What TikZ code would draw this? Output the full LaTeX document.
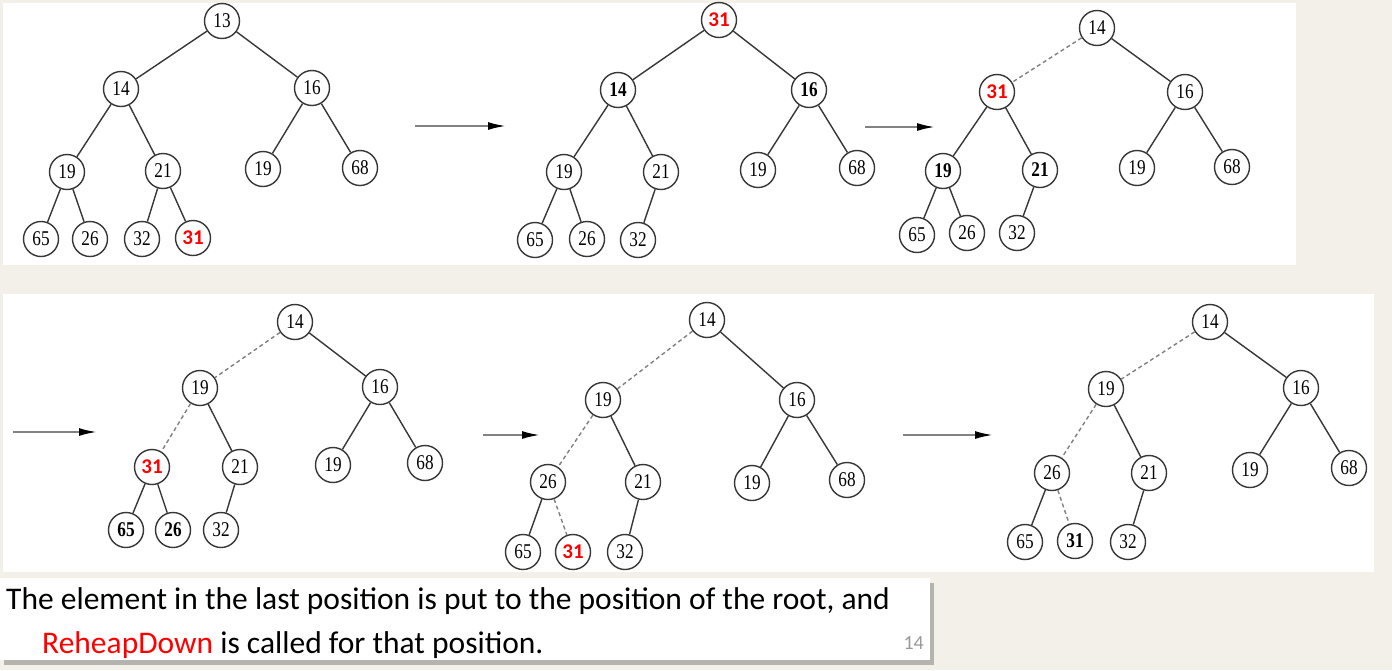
\documentclass[tikz,border=0pt]{standalone}
\usepackage{fontspec}
\setmainfont{Carlito}
\newfontfamily\treefont[FakeStretch=0.82]{Liberation Serif}
\usepackage{xcolor}
\usetikzlibrary{arrows.meta}
\usetikzlibrary{shadows}
\definecolor{slidebg}{RGB}{242,240,233}
\definecolor{edgegray}{RGB}{55,55,55}
\definecolor{arrowgray}{RGB}{130,130,130}

\begin{document}
\begin{tikzpicture}[x=1pt, y=-1pt,
		hnode/.style={circle, draw=edgegray, line width=1.4pt, minimum size=35pt, inner sep=0pt, fill=white, font=\fontsize{21}{21}\selectfont\treefont},
		bnum/.style={font=\fontsize{21}{21}\selectfont\treefont\bfseries},
		hot/.style={text=red, font=\fontsize{21}{21}\selectfont\bfseries},
		edge/.style={draw=edgegray, line width=1.4pt},
		moved/.style={draw=gray, line width=1.4pt, dash pattern=on 4pt off 3pt},
		stepto/.style={draw=arrowgray, line width=2pt, -{Latex[color=black, length=18pt, width=8pt]}}]
	% background and panels
	\useasboundingbox (0,0) rectangle (1392,670);
	\fill[slidebg] (0,0) rectangle (1392,670);
	\fill[white] (3,3) rectangle (1296,265);
	\fill[white] (3,294) rectangle (1374,572);
	\fill[white, drop shadow={shadow xshift=4pt, shadow yshift=-5pt, fill=black, opacity=0.25}] (0,578) rectangle (930,660);
	
	% tree a: 31 added at the last position
	\node[hnode] (a1) at (222,21) {13};
	\node[hnode] (a2) at (121,89) {14};
	\node[hnode] (a3) at (312,88) {16};
	\node[hnode] (a4) at (67,172) {19};
	\node[hnode] (a5) at (163,171) {21};
	\node[hnode] (a6) at (263,169) {19};
	\node[hnode] (a7) at (360,168) {68};
	\node[hnode] (a8) at (41,239) {65};
	\node[hnode] (a9) at (90,239) {26};
	\node[hnode] (a10) at (142,239) {32};
	\node[hnode, hot] (a11) at (193,238) {31};
	\foreach \p/\c in {1/2,1/3,2/4,2/5,3/6,3/7,4/8,4/9,5/10,5/11}
		\draw[edge] (a\p) -- (a\c);
	
	% tree b: 31 moved to the root
	\node[hnode, hot] (b1) at (719,20) {31};
	\node[hnode, bnum] (b2) at (618,90) {14};
	\node[hnode, bnum] (b3) at (809,90) {16};
	\node[hnode] (b4) at (564,172) {19};
	\node[hnode] (b5) at (661,172) {21};
	\node[hnode] (b6) at (758,170) {19};
	\node[hnode] (b7) at (857,168) {68};
	\node[hnode] (b8) at (535,240) {65};
	\node[hnode] (b9) at (587,239) {26};
	\node[hnode] (b10) at (638,240) {32};
	\foreach \p/\c in {1/2,1/3,2/4,2/5,3/6,3/7,4/8,4/9,5/10}
		\draw[edge] (b\p) -- (b\c);
	
	% tree c
	\node[hnode] (c1) at (1097,28) {14};
	\node[hnode, hot] (c2) at (997,92) {31};
	\node[hnode] (c3) at (1185,92) {16};
	\node[hnode, bnum] (c4) at (943,171) {19};
	\node[hnode, bnum] (c5) at (1040,170) {21};
	\node[hnode] (c6) at (1137,168) {19};
	\node[hnode] (c7) at (1232,167) {68};
	\node[hnode] (c8) at (917,235) {65};
	\node[hnode] (c9) at (967,233) {26};
	\node[hnode] (c10) at (1017,233) {32};
	\draw[moved] (c1) -- (c2);
	\foreach \p/\c in {1/3,2/4,2/5,3/6,3/7,4/8,4/9,5/10}
		\draw[edge] (c\p) -- (c\c);
	
	% tree d
	\node[hnode] (d1) at (295,322) {14};
	\node[hnode] (d2) at (200,388) {19};
	\node[hnode] (d3) at (380,387) {16};
	\node[hnode, hot] (d4) at (152,467) {31};
	\node[hnode] (d5) at (240,467) {21};
	\node[hnode] (d6) at (333,465) {19};
	\node[hnode] (d7) at (425,463) {68};
	\node[hnode, bnum] (d8) at (126,530) {65};
	\node[hnode, bnum] (d9) at (173,530) {26};
	\node[hnode] (d10) at (221,530) {32};
	\draw[moved] (d1) -- (d2);
	\draw[moved] (d2) -- (d4);
	\foreach \p/\c in {1/3,2/5,3/6,3/7,4/8,4/9,5/10}
		\draw[edge] (d\p) -- (d\c);
	
	% tree e
	\node[hnode] (e1) at (707,320) {14};
	\node[hnode] (e2) at (603,400) {19};
	\node[hnode] (e3) at (797,400) {16};
	\node[hnode] (e4) at (548,482) {26};
	\node[hnode] (e5) at (643,482) {21};
	\node[hnode] (e6) at (752,483) {19};
	\node[hnode] (e7) at (847,480) {68};
	\node[hnode] (e8) at (523,552) {65};
	\node[hnode, hot] (e9) at (573,552) {31};
	\node[hnode] (e10) at (625,552) {32};
	\draw[moved] (e1) -- (e2);
	\draw[moved] (e2) -- (e4);
	\draw[moved] (e4) -- (e9);
	\foreach \p/\c in {1/3,2/5,3/6,3/7,4/8,5/10}
		\draw[edge] (e\p) -- (e\c);
	
	% tree f: the heap again
	\node[hnode] (f1) at (1210,322) {14};
	\node[hnode] (f2) at (1106,389) {19};
	\node[hnode] (f3) at (1301,388) {16};
	\node[hnode] (f4) at (1052,473) {26};
	\node[hnode] (f5) at (1149,473) {21};
	\node[hnode] (f6) at (1250,470) {19};
	\node[hnode] (f7) at (1349,468) {68};
	\node[hnode] (f8) at (1025,542) {65};
	\node[hnode, bnum] (f9) at (1075,541) {31};
	\node[hnode] (f10) at (1128,542) {32};
	\draw[moved] (f1) -- (f2);
	\draw[moved] (f2) -- (f4);
	\draw[moved] (f4) -- (f9);
	\foreach \p/\c in {1/3,2/5,3/6,3/7,4/8,5/10}
		\draw[edge] (f\p) -- (f\c);
	
	% steps between the trees
	\coordinate (s1a) at (415,126); \coordinate (s1b) at (506,126);
	\coordinate (s2a) at (865,127); \coordinate (s2b) at (935,127);
	\coordinate (s3a) at (13,432);  \coordinate (s3b) at (97,432);
	\coordinate (s4a) at (483,435); \coordinate (s4b) at (540,435);
	\coordinate (s5a) at (903,435); \coordinate (s5b) at (993,435);
	\foreach \s in {1,...,5}
		\draw[stepto] (s\s a) -- (s\s b);
	
	% caption
	\node[anchor=base west, inner sep=0pt, font=\fontsize{31.5}{31.5}\selectfont] (line1) at (6,609) {The element in the last position is put to the position of the root, and};
	\node[anchor=base west, inner sep=0pt, font=\fontsize{31.5}{31.5}\selectfont] (line2) at (42,653) {\textcolor{red}{ReheapDown} is called for that position.};
	\node[anchor=base east, inner sep=0pt, text=gray!80, font=\fontsize{20}{20}\selectfont] (pageno) at (924,649) {14};
\end{tikzpicture}
\end{document}
